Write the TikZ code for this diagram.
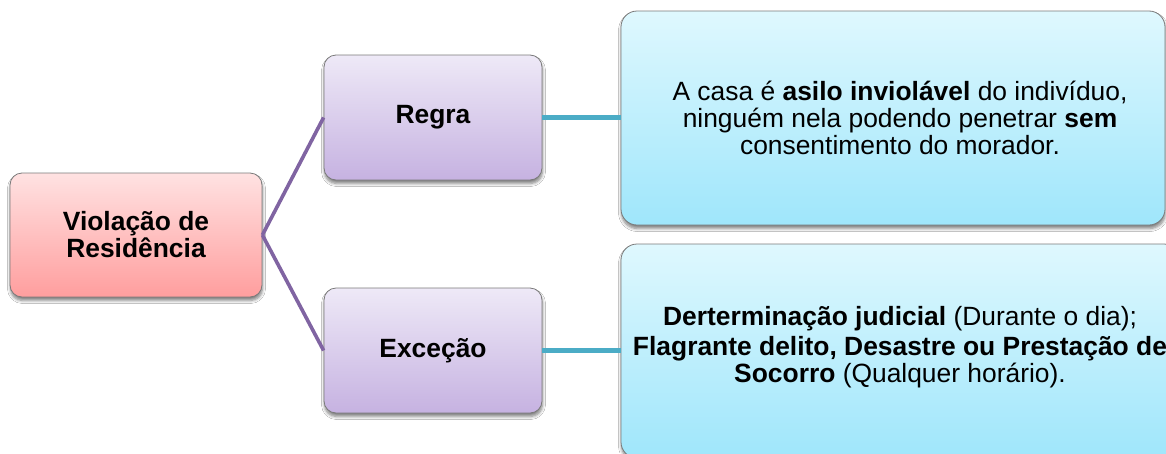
\documentclass[tikz,border=0pt]{standalone}
\usepackage{fontspec}
\setmainfont{Liberation Sans}
\usetikzlibrary{shadows.blur}
\definecolor{pinkTop}{HTML}{FFE2E2}
\definecolor{pinkBot}{HTML}{FF9E9E}
\definecolor{lavTop}{HTML}{EEE9F7}
\definecolor{lavBot}{HTML}{C6B2E1}
\definecolor{blueTop}{HTML}{DFF8FE}
\definecolor{blueBot}{HTML}{9FE6FB}
\definecolor{edgeGray}{HTML}{7A7A7A}
\definecolor{purpleLine}{HTML}{8064A2}
\definecolor{tealLine}{HTML}{4BACC6}
\tikzset{
  basebox/.style={draw=edgeGray, line width=0.8pt, rounded corners=12pt, inner sep=0pt,
    blur shadow={shadow xshift=0.5pt, shadow yshift=-3.5pt, shadow blur steps=6, shadow blur radius=3pt, shadow opacity=50}},
  pinkbox/.style={basebox, top color=pinkTop, bottom color=pinkBot},
  lavbox/.style={basebox, top color=lavTop, bottom color=lavBot},
  bluebox/.style={basebox, rounded corners=16pt, top color=blueTop, bottom color=blueBot},
  labeltext/.style={align=center, font=\fontsize{26.4}{27}\selectfont\bfseries},
  bodytext/.style={align=center, font=\fontsize{26.4}{27}\selectfont, inner sep=0pt},
  purplelink/.style={draw=purpleLine, line width=3.6pt},
  teallink/.style={draw=tealLine, line width=4.2pt}
}
\begin{document}
\begin{tikzpicture}[x=1pt,y=-1pt]
\clip (0,0) rectangle (1166,453);
\fill[white] (0,0) rectangle (1166,453);
% left box
\node[pinkbox, labeltext, minimum width=252pt, minimum height=124pt] (res) at (136,235) {Violação de\\Residência};
% middle boxes
\node[lavbox, labeltext, minimum width=218pt, minimum height=125pt] (regra) at (433,117.5) {Regra};
\node[lavbox, labeltext, minimum width=218pt, minimum height=125pt] (exc) at (433,350.5) {Exceção};
% right boxes
\node[bluebox, minimum width=544pt, minimum height=214pt] (t1) at (893,118) {};
\node[bluebox, minimum width=559pt, minimum height=214pt] (t2) at (900.5,351) {};
\node[bodytext] (t1text) at (900,118) {A casa é \textbf{asilo inviolável} do indivíduo,\\ninguém nela podendo penetrar \textbf{sem}\\consentimento do morador.};
\node[bodytext] (t2text) at (900,347.5) {\textbf{Derterminação judicial} (Durante o dia);\\[3pt]\textbf{Flagrante delito, Desastre ou Prestação de}\\\textbf{Socorro} (Qualquer horário).};
% connectors
\draw[purplelink] (res.east) -- (regra.west);
\draw[purplelink] (res.east) -- (exc.west);
\draw[teallink] (regra.east) -- (regra.east -| t1.west);
\draw[teallink] (exc.east) -- (exc.east -| t2.west);
\end{tikzpicture}
\end{document}
